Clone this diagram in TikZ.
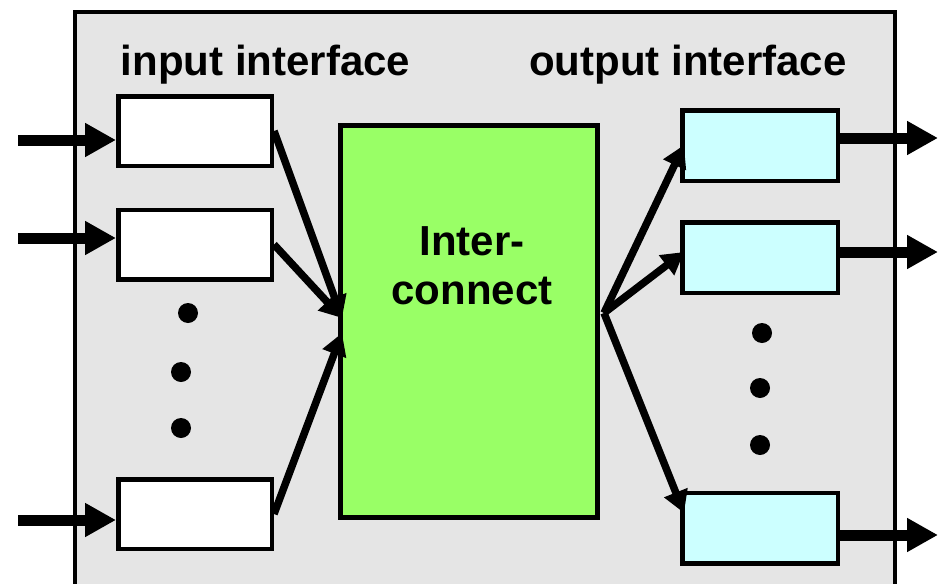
\documentclass[tikz,border=0pt]{standalone}
\usepackage{fontspec}
\setmainfont{Liberation Sans}
\usetikzlibrary{arrows.meta}
\definecolor{panelgray}{HTML}{E5E5E5}
\definecolor{icgreen}{HTML}{99FF66}
\definecolor{outcyan}{HTML}{CCFFFF}
\tikzset{
  inbox/.style={draw=black, line width=4.5pt, fill=white, minimum width=153.5pt, minimum height=69.5pt, inner sep=0pt},
  outbox/.style={draw=black, line width=4.5pt, fill=outcyan, minimum width=155.5pt, minimum height=70.5pt, inner sep=0pt},
  icbox/.style={draw=black, line width=4.5pt, fill=icgreen, minimum width=257pt, minimum height=392pt, inner sep=0pt},
  heading/.style={font=\fontsize{42}{49}\selectfont\bfseries, anchor=base, inner sep=0pt},
  port/.style={line width=11pt, -{Triangle[length=31pt,width=32pt]}},
  link/.style={line width=7.5pt, -{Triangle[length=22pt,width=24pt]}},
  dot/.style={circle, fill=black, minimum size=20pt, inner sep=0pt},
}
\begin{document}
\begin{tikzpicture}[x=1pt,y=-1pt]
\useasboundingbox (0,0) rectangle (946,584);
\clip (0,0) rectangle (946,584);
% router chassis
\draw[line width=4pt, fill=panelgray] (74.5,12) rectangle (895,620);
% headings
\node[heading] (inlab) at (265.5,75) {input interface};
\node[heading] (outlab) at (688,75) {output interface};
% switching fabric
\node[icbox] (ic) at (469,321.5) {};
\node[heading] (ic1) at (472,255) {Inter-};
\node[heading] (ic2) at (472,304) {connect};
% input ports
\node[inbox] (in1) at (195,131) {};
\node[inbox] (in2) at (195,244.5) {};
\node[inbox] (in3) at (195,514) {};
% output ports
\node[outbox] (out1) at (760,145.5) {};
\node[outbox] (out2) at (760,257.5) {};
\node[outbox] (out3) at (760,528) {};
% ellipsis dots
\node[dot] (dl1) at (188,313) {};
\node[dot] (dl2) at (181,372) {};
\node[dot] (dl3) at (181,428) {};
\node[dot] (dr1) at (762,333) {};
\node[dot] (dr2) at (760,388) {};
\node[dot] (dr3) at (760,445) {};
% line ends
\coordinate (s1) at (18,140);
\coordinate (s2) at (18,238);
\coordinate (s3) at (18,520);
\coordinate (e1) at (938,138);
\coordinate (e2) at (938,252);
\coordinate (e3) at (938,535);
\coordinate (ta) at (342,318);
\coordinate (tb) at (342,333);
\coordinate (src) at (604,313);
\coordinate (o1) at (684,145);
\coordinate (o2) at (684,252);
\coordinate (o3) at (684,513);
% incoming and outgoing lines
\draw[port] (s1) -- (s1 -| in1.west);
\draw[port] (s2) -- (s2 -| in2.west);
\draw[port] (s3) -- (s3 -| in3.west);
\draw[port] (e1 -| out1.east) -- (e1);
\draw[port] (e2 -| out2.east) -- (e2);
\draw[port] (e3 -| out3.east) -- (e3);
% fabric connections
\draw[link] (in1.east) -- (ta);
\draw[link] (in2.east) -- (ta);
\draw[link] (in3.east) -- (tb);
\draw[link] (src) -- (o1);
\draw[link] (src) -- (o2);
\draw[link] (src) -- (o3);
\end{tikzpicture}
\end{document}
